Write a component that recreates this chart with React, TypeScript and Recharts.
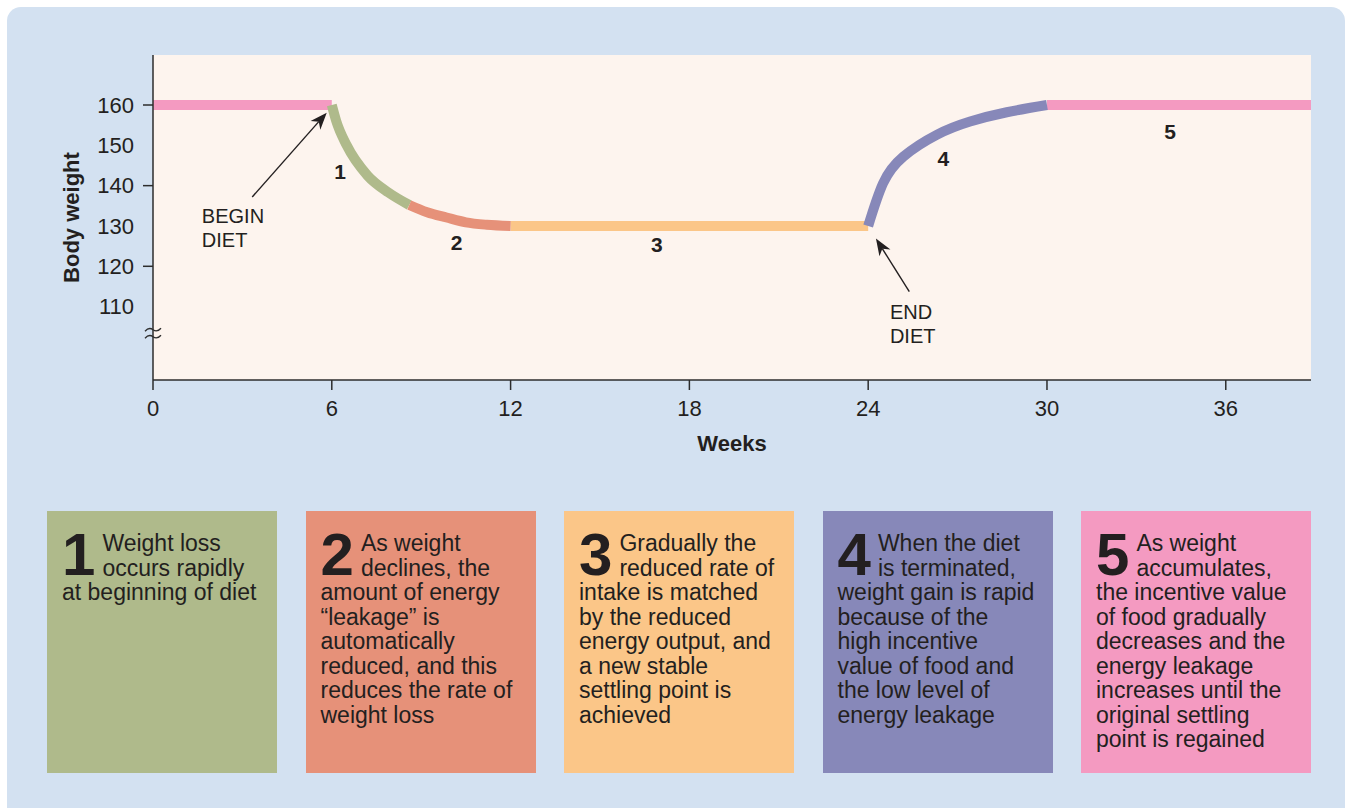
import React from 'react'
import {
  LineChart, Line, XAxis, YAxis, CartesianGrid, ReferenceLine, ReferenceDot, Label,
} from 'recharts'

// body weight curve (weeks → pounds)
const flatStart = [{ w: 0, v: 160 }, { w: 6, v: 160 }]
const rapidLoss = [
  { w: 6, v: 160 }, { w: 6.15, v: 156 }, { w: 6.5, v: 150 }, { w: 7.2, v: 142.5 },
  { w: 7.9, v: 138.3 }, { w: 8.6, v: 135.2 },
]
const slowLoss = [
  { w: 8.6, v: 135.2 }, { w: 9.2, v: 133.4 }, { w: 9.85, v: 132.1 }, { w: 10.5, v: 130.9 },
  { w: 11.2, v: 130.3 }, { w: 12, v: 130 },
]
const plateau = [{ w: 12, v: 130 }, { w: 24, v: 130 }]
const regain = [
  { w: 24, v: 130 }, { w: 24.5, v: 140.6 }, { w: 25.18, v: 147.2 },
  { w: 26.3, v: 152.6 }, { w: 27.42, v: 155.9 }, { w: 28.65, v: 158.2 }, { w: 30, v: 160 },
]
const flatEnd = [{ w: 30, v: 160 }, { w: 38.86, v: 160 }]

const weekTicks = [0, 6, 12, 18, 24, 30, 36]
const weightTicks = [110, 120, 130, 140, 150, 160]
const markedWeightTicks = [120, 140, 160]
const xDomain = [0, 38.86]
const yDomain = [91.8, 172.4]

// numbered phase labels on the curve
const phaseLabels = [
  { n: '1', w: 6.28, v: 143.4 },
  { n: '2', w: 10.19, v: 125.8 },
  { n: '3', w: 16.91, v: 125.3 },
  { n: '4', w: 26.52, v: 146.8 },
  { n: '5', w: 34.13, v: 153.4 },
]

const callouts = [
  { lines: ['BEGIN', 'DIET'], w: 1.64, v: 132.6, tail: { w: 3.33, v: 137.2 }, tip: { w: 5.83, v: 158.1 } },
  { lines: ['END', 'DIET'], w: 24.73, v: 108.7, tail: { w: 25.38, v: 113.7 }, tip: { w: 24.26, v: 126.9 } },
]

const steps = [
  { n: '1', lines: ['Weight loss', 'occurs rapidly', 'at beginning of diet'] },
  { n: '2', lines: ['As weight', 'declines, the', 'amount of energy', '\u201cleakage\u201d is', 'automatically', 'reduced, and this', 'reduces the rate of', 'weight loss'] },
  { n: '3', lines: ['Gradually the', 'reduced rate of', 'intake is matched', 'by the reduced', 'energy output, and', 'a new stable', 'settling point is', 'achieved'] },
  { n: '4', lines: ['When the diet', 'is terminated,', 'weight gain is rapid', 'because of the', 'high incentive', 'value of food and', 'the low level of', 'energy leakage'] },
  { n: '5', lines: ['As weight', 'accumulates,', 'the incentive value', 'of food gradually', 'decreases and the', 'energy leakage', 'increases until the', 'original settling', 'point is regained'] },
]

const GREEN = '#afba8b'
const SALMON = '#e69179'
const PEACH = '#fbc688'
const PURPLE = '#8788b9'
const PINK = '#f49ac1'
const stepColors = [GREEN, SALMON, PEACH, PURPLE, PINK]

const segments = [
  { key: 'flatStart', data: flatStart, color: PINK, type: 'linear' },
  { key: 'plateau', data: plateau, color: PEACH, type: 'linear' },
  { key: 'flatEnd', data: flatEnd, color: PINK, type: 'linear' },
  { key: 'rapidLoss', data: rapidLoss, color: GREEN, type: 'monotone' },
  { key: 'slowLoss', data: slowLoss, color: SALMON, type: 'monotone' },
  { key: 'regain', data: regain, color: PURPLE, type: 'natural' },
]

const FONT = '"Liberation Sans", Arial, Helvetica, sans-serif'
const INK = '#231f20'
const AXIS = '#2d2d2d'

const WeightTick = ({ x, y, payload }: any) => (
  <g>
    {markedWeightTicks.includes(payload.value) && (
      <line x1={x + 9} x2={x + 19} y1={y} y2={y} stroke={AXIS} strokeWidth={1.5} />
    )}
    <text x={x} y={y} dy="0.35em" textAnchor="end" fontSize={22} fill={INK} fontFamily={FONT}>
      {payload.value}
    </text>
  </g>
)

const Arrow = ({ x1, y1, x2, y2 }: any) => {
  const dx = x2 - x1
  const dy = y2 - y1
  const len = Math.sqrt(dx * dx + dy * dy)
  const ux = dx / len
  const uy = dy / len
  const headLen = 17
  const headW = 6.5
  const bx = x2 - ux * headLen
  const by = y2 - uy * headLen
  const nx = x2 - ux * (headLen - 5)
  const ny = y2 - uy * (headLen - 5)
  return (
    <g>
      <line x1={x1} y1={y1} x2={nx} y2={ny} stroke={INK} strokeWidth={1.4} />
      <polygon
        points={`${x2},${y2} ${bx - uy * headW},${by + ux * headW} ${nx},${ny} ${bx + uy * headW},${by - ux * headW}`}
        fill={INK}
      />
    </g>
  )
}

const BreakMark = ({ cx, cy }: any) => (
  <g fill="none" stroke={AXIS} strokeWidth={1.3}>
    {[-3.5, 3.5].map((d) => (
      <path key={d} d={`M ${cx - 8} ${cy + d + 1.5} Q ${cx - 4} ${cy + d - 3} ${cx} ${cy + d} T ${cx + 8} ${cy + d - 1.5}`} />
    ))}
  </g>
)

export default function App() {
  return (
    <div style={{ position: 'absolute', left: 0, top: 0, width: 1345, height: 810, background: '#fff', fontFamily: FONT }}>
      <div style={{
        position: 'absolute', left: 7, top: 7, width: 1338, height: 801,
        background: '#d3e1f1', borderRadius: '14px 14px 0 0',
      }} />
      <div style={{ position: 'absolute', left: 0, top: 0 }}>
        <LineChart width={1345} height={480} margin={{ top: 55, right: 34, bottom: 10, left: 0 }}>
          <CartesianGrid fill="#fdf4ee" fillOpacity={1} horizontal={false} vertical={false} />
          <XAxis
            dataKey="w"
            type="number"
            domain={xDomain}
            allowDataOverflow
            ticks={weekTicks}
            interval={0}
            height={90}
            tickSize={10}
            tickMargin={10}
            stroke={AXIS}
            axisLine={{ stroke: AXIS, strokeWidth: 1.5 }}
            tickLine={{ stroke: AXIS, strokeWidth: 1.5 }}
            tick={{ fontSize: 22, fill: INK, fontFamily: FONT }}
          >
            <Label
              content={({ viewBox }: any) => (
                <text
                  x={viewBox.x + viewBox.width / 2} y={viewBox.y + 71}
                  textAnchor="middle" fontSize={22} fontWeight="bold" fill={INK} fontFamily={FONT}
                >
                  Weeks
                </text>
              )}
            />
          </XAxis>
          <XAxis xAxisId="top" orientation="top" type="number" domain={xDomain} allowDataOverflow
            height={0} tick={false} tickLine={false} axisLine={{ stroke: AXIS, strokeWidth: 1.5 }} />
          <YAxis
            type="number"
            domain={yDomain}
            allowDataOverflow
            ticks={weightTicks}
            interval={0}
            width={153}
            tickSize={10}
            tickMargin={9}
            tickLine={false}
            axisLine={{ stroke: AXIS, strokeWidth: 1.5 }}
            tick={<WeightTick />}
          >
            <Label
              content={({ viewBox }: any) => {
                const cx = viewBox.x + 71
                const cy = viewBox.y + viewBox.height / 2
                return (
                  <text
                    x={cx} y={cy} dy="0.35em" transform={`rotate(-90, ${cx}, ${cy})`}
                    textAnchor="middle" fontSize={22} fontWeight="bold" fill={INK} fontFamily={FONT}
                  >
                    Body weight
                  </text>
                )
              }}
            />
          </YAxis>
          <YAxis yAxisId="right" orientation="right" type="number" domain={yDomain} allowDataOverflow
            width={0} tick={false} tickLine={false} axisLine={{ stroke: AXIS, strokeWidth: 1.5 }} />

          {segments.map((s) => (
            <Line
              key={s.key}
              data={s.data}
              dataKey="v"
              type={s.type as any}
              stroke={s.color}
              strokeWidth={10}
              strokeLinecap="butt"
              dot={false}
              activeDot={false}
              isAnimationActive={false}
            />
          ))}

          <ReferenceDot x={0} y={103.4} r={0} shape={<BreakMark />} />

          {phaseLabels.map((p) => (
            <ReferenceDot
              key={p.n}
              x={p.w}
              y={p.v}
              r={0}
              shape={({ cx, cy }: any) => (
                <text x={cx} y={cy} dy="0.36em" textAnchor="middle" fontSize={21} fontWeight="bold" fill={INK} fontFamily={FONT}>
                  {p.n}
                </text>
              )}
            />
          ))}

          {callouts.map((c) => (
            <ReferenceLine
              key={c.lines[0]}
              segment={[{ x: c.tail.w, y: c.tail.v }, { x: c.tip.w, y: c.tip.v }]}
              shape={<Arrow />}
            />
          ))}
          {callouts.map((c) => (
            <ReferenceDot
              key={c.lines[0] + 'txt'}
              x={c.w}
              y={c.v}
              r={0}
              shape={({ cx, cy }: any) => (
                <text x={cx} y={cy} fontSize={20} fill={INK} fontFamily={FONT}>
                  {c.lines.map((l, i) => (
                    <tspan key={l} x={cx} dy={i === 0 ? '0.36em' : 24}>{l}</tspan>
                  ))}
                </text>
              )}
            />
          ))}
        </LineChart>
      </div>

      {steps.map((s, i) => (
        <div
          key={s.n}
          style={{
            position: 'absolute', left: 47 + i * 258.5, top: 511, width: 230, height: 262,
            boxSizing: 'border-box', padding: '20px 10px 0 15px', background: stepColors[i],
            color: INK, fontSize: 23, lineHeight: '24.5px', whiteSpace: 'nowrap',
          }}
        >
          <span style={{ float: 'left', fontSize: 60, lineHeight: '48px', height: 48, fontWeight: 'bold', marginRight: 7 }}>
            {s.n}
          </span>
          {s.lines.map((l, j) => (
            <React.Fragment key={j}>
              {l}
              {j < s.lines.length - 1 && <br />}
            </React.Fragment>
          ))}
        </div>
      ))}
    </div>
  )
}
